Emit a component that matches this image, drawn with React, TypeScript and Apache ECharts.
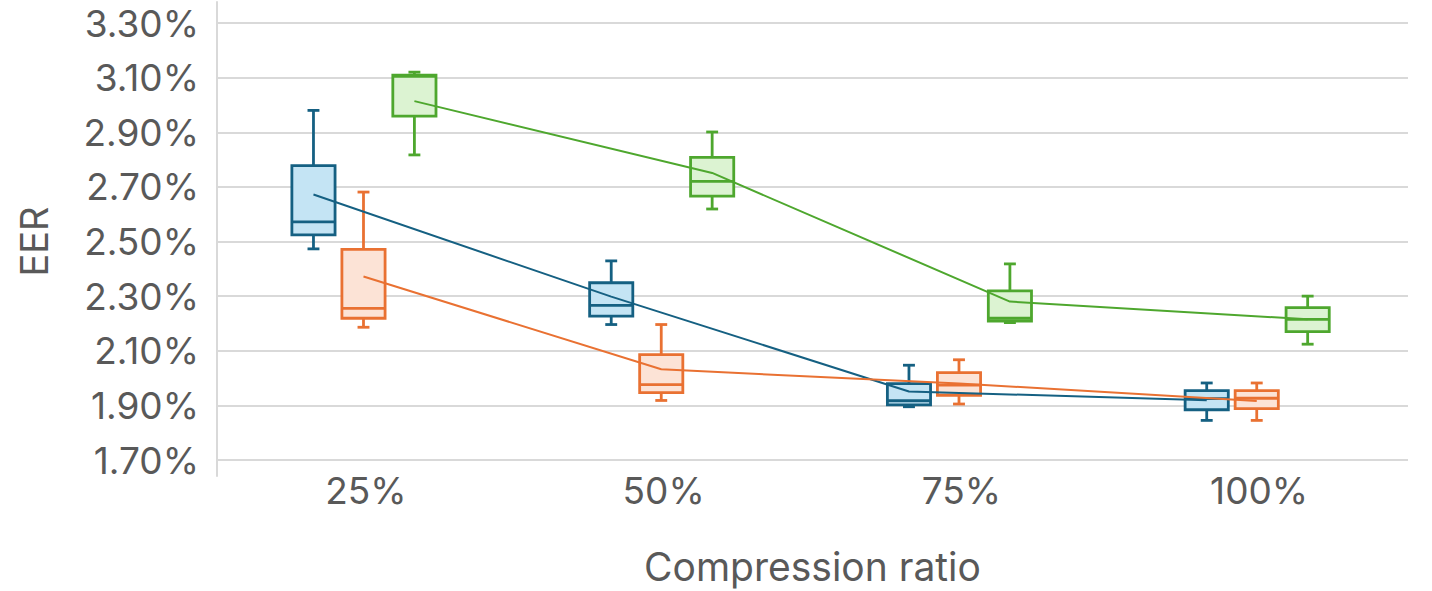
import React, { useEffect, useRef } from "react";
import * as echarts from "echarts";

const categories = ["25%", "50%", "75%", "100%"];
const yTicksMin = 1.7;
const yTicksMax = 3.3;

// [min, q1, median, q3, max]
const blueBoxes = [
  [2.473, 2.524, 2.572, 2.778, 2.98],
  [2.196, 2.227, 2.266, 2.349, 2.429],
  [1.895, 1.902, 1.917, 1.98, 2.047],
  [1.845, 1.884, 1.925, 1.954, 1.982],
];
const blueMeans = [2.672, 2.298, 1.951, 1.919];

const orangeBoxes = [
  [2.186, 2.219, 2.255, 2.471, 2.681],
  [1.918, 1.947, 1.976, 2.086, 2.196],
  [1.905, 1.937, 1.974, 2.02, 2.067],
  [1.845, 1.888, 1.926, 1.954, 1.982],
];
const orangeMeans = [2.372, 2.032, 1.98, 1.916];

const greenBoxes = [
  [2.817, 2.959, 3.105, 3.109, 3.12],
  [2.619, 2.666, 2.72, 2.808, 2.901],
  [2.203, 2.209, 2.219, 2.319, 2.418],
  [2.124, 2.17, 2.215, 2.258, 2.3],
];
const greenMeans = [3.014, 2.751, 2.28, 2.215];

const seriesDefs = [
  { name: "A", boxes: blueBoxes, means: blueMeans, offset: -0.176, stroke: "#156082", fill: "#C4E4F4" },
  { name: "B", boxes: orangeBoxes, means: orangeMeans, offset: -0.008, stroke: "#E97132", fill: "#FCE3D6" },
  { name: "C", boxes: greenBoxes, means: greenMeans, offset: 0.163, stroke: "#4EA72E", fill: "#DCF3D2" },
];

const BOX_W = 0.145;
const CAP_W = 0.04;
const FONT = "Inter";
const TEXT_COLOR = "#595959";

export default function App() {
  const ref = useRef<HTMLDivElement>(null);
  useEffect(() => {
    if (!ref.current) return;
    const chart = echarts.init(ref.current, null, { renderer: "svg" });

    const boxSeries = seriesDefs.map((s) => ({
      type: "custom",
      name: s.name + "box",
      xAxisIndex: 1,
      yAxisIndex: 0,
      data: s.boxes.map((b, i) => [i + s.offset, ...b]),
      encode: { x: 0, y: [1, 2, 3, 4, 5] },
      renderItem: (params: any, api: any) => {
        const x = api.value(0);
        const pMin = api.coord([x, api.value(1)]);
        const pQ1 = api.coord([x, api.value(2)]);
        const pMed = api.coord([x, api.value(3)]);
        const pQ3 = api.coord([x, api.value(4)]);
        const pMax = api.coord([x, api.value(5)]);
        const cx = pMin[0];
        const w = api.size([BOX_W, 0])[0];
        const cw = api.size([CAP_W, 0])[0];
        const ls = { stroke: s.stroke, lineWidth: 2.8 };
        return {
          type: "group",
          children: [
            { type: "line", shape: { x1: cx, y1: pMax[1], x2: cx, y2: pQ3[1] }, style: ls },
            { type: "line", shape: { x1: cx - cw / 2, y1: pMax[1], x2: cx + cw / 2, y2: pMax[1] }, style: ls },
            { type: "line", shape: { x1: cx, y1: pMin[1], x2: cx, y2: pQ1[1] }, style: ls },
            { type: "line", shape: { x1: cx - cw / 2, y1: pMin[1], x2: cx + cw / 2, y2: pMin[1] }, style: ls },
            {
              type: "rect",
              shape: { x: cx - w / 2, y: pQ3[1], width: w, height: pQ1[1] - pQ3[1] },
              style: { fill: s.fill, stroke: s.stroke, lineWidth: 2.8 },
            },
            { type: "line", shape: { x1: cx - w / 2, y1: pMed[1], x2: cx + w / 2, y2: pMed[1] }, style: ls },
          ],
        };
      },
      z: 2,
    }));

    const lineSeries = seriesDefs.map((s) => ({
      type: "line",
      name: s.name + "mean",
      xAxisIndex: 1,
      yAxisIndex: 0,
      data: s.means.map((m, i) => [i + s.offset, m]),
      showSymbol: false,
      symbol: "none",
      lineStyle: { color: s.stroke, width: 2 },
      z: 3,
    }));

    chart.setOption({
      animation: false,
      grid: [
        { left: 217, right: 24, top: 23, bottom: 130 },
        { left: 217, right: 24, top: 2, bottom: 115 },
      ],
      xAxis: [
        {
          type: "category",
          gridIndex: 0,
          data: categories,
          boundaryGap: true,
          axisLine: { show: false },
          axisTick: { show: false },
          axisLabel: { fontFamily: FONT, fontSize: 37, color: TEXT_COLOR, margin: 12 },
          name: "Compression ratio",
          nameLocation: "middle",
          nameGap: 87,
          nameTextStyle: { fontFamily: FONT, fontSize: 39, color: TEXT_COLOR },
        },
        {
          type: "value",
          gridIndex: 0,
          min: -0.5,
          max: 3.5,
          show: false,
        },
        {
          type: "value",
          gridIndex: 1,
          min: 0,
          max: 1,
          show: false,
        },
      ],
      yAxis: [
        {
          type: "value",
          gridIndex: 0,
          min: yTicksMin,
          max: yTicksMax,
          interval: 0.2,
          axisLine: { show: false },
          axisTick: { show: false },
          splitLine: { show: true, lineStyle: { color: "#D9D9D9", width: 2 } },
          axisLabel: {
            fontFamily: FONT,
            fontSize: 37,
            color: TEXT_COLOR,
            margin: 18,
            formatter: (v: number) => v.toFixed(2) + "%",
          },
          name: "EER",
          nameLocation: "middle",
          nameGap: 164,
          nameTextStyle: { fontFamily: FONT, fontSize: 38, color: TEXT_COLOR },
        },
        {
          type: "value",
          gridIndex: 1,
          min: 0,
          max: 1,
          axisLine: { show: true, lineStyle: { color: "#D9D9D9", width: 2 } },
          axisTick: { show: false },
          axisLabel: { show: false },
          splitLine: { show: false },
        },
      ],
      series: [...boxSeries, ...lineSeries],
    });
    return () => chart.dispose();
  }, []);
  return (
    <div
      ref={ref}
      style={{ position: "fixed", left: 0, top: 0, width: 1432, height: 591, background: "#fff" }}
    />
  );
}
